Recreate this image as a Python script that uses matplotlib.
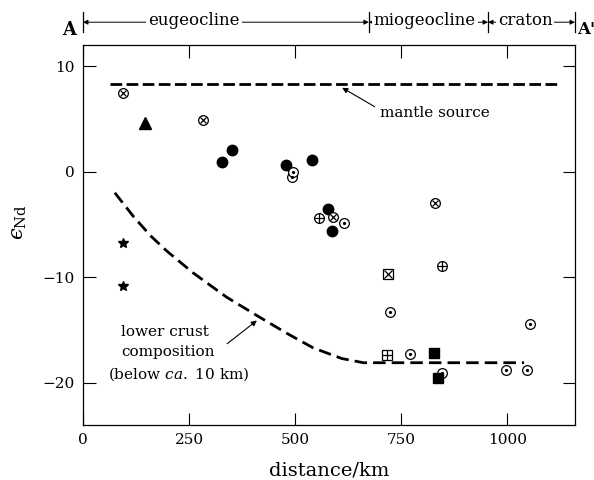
import numpy as np
import matplotlib.pyplot as plt

plt.rcParams['font.family'] = 'DejaVu Serif'
plt.rcParams['mathtext.fontset'] = 'dejavuserif'

# mantle source line
mantle_x = [64, 1125]
mantle_y = [8.3, 8.3]

# lower crust composition curve
crust_x = [75, 120, 160, 197, 260, 339, 417, 480, 543, 610, 661, 1040]
crust_y = [-2.0, -4.3, -6.1, -7.5, -9.6, -11.9, -13.8, -15.3, -16.7, -17.7, -18.1, -18.1]

# samples, grouped by symbol
filled_circle_x = [327, 352, 478, 541, 577, 587]
filled_circle_y = [0.9, 2.1, 0.6, 1.1, -3.5, -5.6]
dot_circle_x = [492, 496, 616, 723, 771, 847, 998, 1047, 1053]
dot_circle_y = [-0.5, 0.0, -4.9, -13.3, -17.3, -19.1, -18.8, -18.8, -14.4]
cross_circle_x = [94, 282, 589, 829]
cross_circle_y = [7.45, 4.9, -4.3, -3.0]
plus_circle_x = [557, 846]
plus_circle_y = [-4.4, -8.9]
triangle_x = [147]
triangle_y = [4.6]
star_x = [95, 95]
star_y = [-6.8, -10.8]
cross_square_x = [718]
cross_square_y = [-9.7]
plus_square_x = [716]
plus_square_y = [-17.4]
filled_square_x = [828, 836]
filled_square_y = [-17.2, -19.5]

# zones along section
zone_names = ['eugeocline', 'miogeocline', 'craton']
zone_edges = [0, 674, 955, 1160]
zone_text_x = [262, 806, 1042]

fig = plt.figure(figsize=(5.94, 4.8), dpi=100)
ax = fig.add_axes([83/594, 55/480, 492/594, 380/480])

ax.plot(mantle_x, mantle_y, color='black', lw=2.0, dashes=(4.2, 1.6))
ax.plot(crust_x, crust_y, color='black', lw=2.0, dashes=(4.5, 2.2))

k = dict(color='black', linestyle='none')
ax.plot(filled_circle_x, filled_circle_y, marker='o', ms=7.5, mfc='black', mec='black', **k)
ax.plot(dot_circle_x, dot_circle_y, marker='o', ms=7, mfc='white', mec='black', mew=0.9, **k)
ax.plot(dot_circle_x, dot_circle_y, marker='o', ms=1.3, mfc='black', mec='black', **k)
ax.plot(cross_circle_x, cross_circle_y, marker='o', ms=7, mfc='white', mec='black', mew=0.9, **k)
ax.plot(cross_circle_x, cross_circle_y, marker='x', ms=4.6, mew=0.9, **k)
ax.plot(plus_circle_x, plus_circle_y, marker='o', ms=7, mfc='white', mec='black', mew=0.9, **k)
ax.plot(plus_circle_x, plus_circle_y, marker='+', ms=7, mew=0.9, **k)
ax.plot(triangle_x, triangle_y, marker='^', ms=8, mfc='black', mec='black', **k)
ax.plot(star_x, star_y, marker='*', ms=7, mfc='black', mec='black', **k)
ax.plot(cross_square_x, cross_square_y, marker='s', ms=6.5, mfc='white', mec='black', mew=0.9, **k)
ax.plot(cross_square_x, cross_square_y, marker='x', ms=6, mew=0.9, **k)
ax.plot(plus_square_x, plus_square_y, marker='s', ms=6.5, mfc='white', mec='black', mew=0.9, **k)
ax.plot(plus_square_x, plus_square_y, marker='+', ms=6.5, mew=0.9, **k)
ax.plot(filled_square_x, filled_square_y, marker='s', ms=7, mfc='black', mec='black', **k)

ax.annotate('mantle source', xy=(611, 7.95), xytext=(700, 5.6),
            fontsize=11, va='center', ha='left',
            arrowprops=dict(arrowstyle='-|>', color='black', lw=0.8,
                            mutation_scale=8, shrinkA=2, shrinkB=0,
                            relpos=(0, 0.7)))
ax.annotate('', xy=(410, -14.1), xytext=(340, -16.3),
            arrowprops=dict(arrowstyle='-|>', color='black', lw=0.8,
                            mutation_scale=8, shrinkA=0, shrinkB=0))
ax.text(90, -15.2, 'lower crust', fontsize=11, va='center', ha='left')
ax.text(90, -17.1, 'composition', fontsize=11, va='center', ha='left')
ax.text(60, -19.2, r'(below $\mathit{ca.}$ 10 km)', fontsize=11, va='center', ha='left')

ax.set_xlim(0, 1160)
ax.set_ylim(-24, 12)
ax.set_xticks([0, 250, 500, 750, 1000])
ax.set_yticks([10, 0, -10, -20])
ax.tick_params(direction='in', length=9, width=0.8, top=True, right=True,
               labelsize=11, pad=6)
for s in ax.spines.values():
    s.set_linewidth(0.9)

ax.set_xlabel('distance/km', fontsize=14, labelpad=10)
fig.text(20/594, 1 - 222/480, r'$ϵ_{\rm Nd}$', fontsize=15,
         rotation=90, ha='center', va='center')

# zone header above the plot
trans = ax.get_xaxis_transform()
bar_y = 1.06
for x in zone_edges:
    ax.plot([x, x], [1.035, 1.088], color='black', lw=0.9,
            transform=trans, clip_on=False)
for i, name in enumerate(zone_names):
    ax.annotate('', xy=(zone_edges[i + 1], bar_y), xytext=(zone_edges[i], bar_y),
                xycoords=trans, textcoords=trans, annotation_clip=False,
                arrowprops=dict(arrowstyle='<|-|>', color='black', lw=0.7,
                                mutation_scale=7, shrinkA=0, shrinkB=0))
    ax.text(zone_text_x[i], bar_y + 0.005, name, transform=trans, fontsize=12,
            ha='center', va='center', clip_on=False,
            bbox=dict(facecolor='white', edgecolor='none', pad=1.5))

fig.text(69/594, 1 - 30/480, 'A', fontsize=13, fontweight='bold',
         ha='center', va='center')
fig.text(577/594, 1 - 30/480, "A'", fontsize=12, fontweight='bold',
         ha='left', va='center')

fig.savefig('out.png', dpi=100)
